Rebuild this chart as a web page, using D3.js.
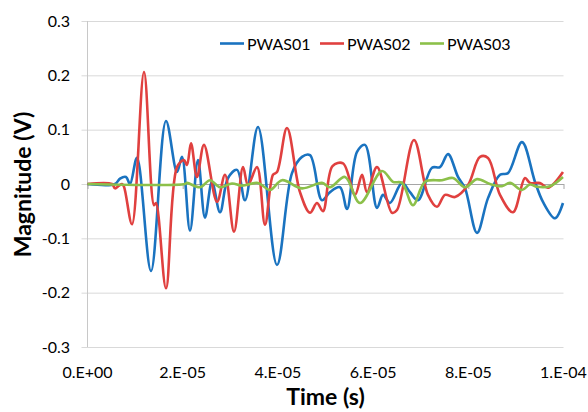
<!DOCTYPE html>
<html><head><meta charset="utf-8">
<script src="https://cdn.jsdelivr.net/npm/d3@7"></script>
<style>body{margin:0;background:#fff}svg{display:block}</style>
</head><body><svg id="c" width="588" height="412"></svg>
<script>
// time in microseconds, magnitude in volts
const seriesNames = ["PWAS01", "PWAS02", "PWAS03"];
const colors = ["#1a73c0", "#e0403f", "#8cc04a"];
const xTickValues = [0, 2e-5, 4e-5, 6e-5, 8e-5, 1e-4];
const xTickLabels = ["0.E+00", "2.E-05", "4.E-05", "6.E-05", "8.E-05", "1.E-04"];
const yTickValues = [-0.3, -0.2, -0.1, 0, 0.1, 0.2, 0.3];
const yTickLabels = ["-0.3", "-0.2", "-0.1", "0", "0.1", "0.2", "0.3"];

const pwas01T = [0,5.78,6.83,8.09,8.93,10.40,13.34,16.49,18.80,19.85,21.53,23.21,24.68,26.16,27.84,29.52,31.41,33.09,35.82,39.81,42.96,45.06,46.74,49.26,50.95,53.05,54.52,56.62,58.30,60.82,62.08,63.55,66.07,67.75,69.43,72.37,74.05,75.74,77.84,79.31,81.83,84.14,86.66,88.34,91.28,94.01,95.69,98.21,99.89];
const pwas01V = [0,0,0.010,0.013,0.0,0.048,-0.16,0.116,0.022,0.05,-0.086,0.044,-0.062,0.004,-0.052,0.011,0.026,-0.03,0.105,-0.149,0.02,0.05,0.053,-0.03,-0.015,-0.006,-0.046,0.059,0.072,-0.044,-0.02,-0.035,0.002,-0.015,-0.03,0.03,0.031,0.055,0.013,-0.008,-0.09,-0.026,0.017,0.02,0.077,0.004,-0.033,-0.063,-0.035];

const pwas02T = [0,5.15,5.78,6.62,7.25,7.67,9.35,11.87,13.97,14.39,16.49,18.80,20.27,20.90,21.74,23.0,24.47,27.21,28.89,30.78,32.67,33.72,35.61,37.29,38.97,39.81,41.91,44.64,46.74,48.21,49.47,51.47,53.68,56.2,57.67,58.72,60.82,63.97,65.02,68.59,71.53,73.42,75.11,77.21,79.94,82.46,84.14,86.66,89.39,91.91,92.96,95.06,96.74,99.89];
const pwas02V = [0,0,-0.008,-0.003,0,-0.005,-0.074,0.206,-0.039,-0.035,-0.192,0.031,0.044,0.035,0.075,0.013,0.072,-0.033,0.017,-0.088,0.031,-0.002,0.031,-0.075,0.017,0.022,0.103,-0.015,-0.053,-0.035,-0.05,0.033,0.038,-0.02,0.017,-0.015,0.031,-0.053,-0.048,0.081,-0.02,-0.042,-0.02,-0.024,-0.002,0.05,0.048,-0.02,-0.052,0.011,0.002,0.002,-0.007,0.022];

const pwas03T = [0,20.48,20.9,23.63,25.74,27.84,30.36,32.46,35.82,38.34,40.86,45.06,49.26,50.95,54.10,57.25,61.87,64.18,66.07,68.38,70.90,74.47,76.79,79.31,81.83,84.56,87.08,88.76,91.28,92.96,94.43,97.16,99.89];
const pwas03V = [0,0,0.002,-0.006,0.007,-0.006,0.001,-0.003,0.002,-0.011,0.007,-0.008,0.002,-0.006,0.013,-0.035,0.024,0.004,0.002,-0.039,0.004,0.007,0.011,-0.006,0.009,0.0,-0.004,0.002,-0.011,-0.001,-0.005,-0.004,0.013];

const allT = [pwas01T, pwas02T, pwas03T];
const allV = [pwas01V, pwas02V, pwas03V];

const svg = d3.select("#c");
const L = 87.5, R = 563.5, T = 21, B = 347;
const x = d3.scaleLinear().domain([0, 1e-4]).range([L, R]);
const y = d3.scaleLinear().domain([-0.3, 0.3]).range([B, T]);
const font = "Lato, 'Open Sans', sans-serif";

// gridlines
const yAxis = d3.axisLeft(y).tickValues(yTickValues).tickSize(-(R - L)).tickSizeOuter(0).tickFormat(() => "");
const yg = svg.append("g").attr("transform", `translate(${L},0)`).call(yAxis);
yg.selectAll(".tick line").attr("stroke", "#d9d9d9").attr("x1", -6).attr("stroke-width", 1);
yg.select(".domain").remove();
// left axis line
svg.append("line").attr("x1", L).attr("x2", L).attr("y1", T).attr("y2", B).attr("stroke", "#c8c8c8");

// y tick labels
svg.append("g").selectAll("text").data(yTickValues).join("text")
  .attr("x", 70).attr("y", d => y(d)).attr("dy", "0.35em")
  .attr("text-anchor", "end").attr("font-family", font).attr("font-size", 16).attr("fill", "#000")
  .text((d, i) => yTickLabels[i]);

// zero axis with tick marks
const xAxis = d3.axisBottom(x).tickValues(xTickValues).tickSize(5).tickSizeOuter(0).tickFormat(() => "");
const xg = svg.append("g").attr("transform", `translate(0,${y(0)})`).call(xAxis);
xg.select(".domain").attr("stroke", "#a6a6a6");
xg.selectAll(".tick line").attr("stroke", "#a6a6a6");

// x tick labels at bottom
svg.append("g").selectAll("text").data(xTickValues).join("text")
  .attr("x", d => x(d)).attr("y", 378)
  .attr("text-anchor", "middle").attr("font-family", font).attr("font-size", 16).attr("fill", "#000")
  .text((d, i) => xTickLabels[i]);

// lines
const line = d3.line().x(d => x(d[0] * 1e-6)).y(d => y(d[1])).curve(d3.curveCatmullRom.alpha(0.5));
allT.forEach((ts, k) => {
  const pts = ts.map((t, i) => [t, allV[k][i]]);
  svg.append("path").datum(pts).attr("d", line).attr("fill", "none")
    .attr("stroke", colors[k]).attr("stroke-width", 2.6).attr("stroke-linejoin", "round");
});

// legend
const legX = [220, 320, 420];
seriesNames.forEach((n, k) => {
  svg.append("line").attr("x1", legX[k]).attr("x2", legX[k] + 24).attr("y1", 43.5).attr("y2", 43.5)
    .attr("stroke", colors[k]).attr("stroke-width", 2.6);
  svg.append("text").attr("x", legX[k] + 27).attr("y", 49.5).attr("font-family", font)
    .attr("font-size", 16).attr("fill", "#000").text(n);
});

// axis titles
svg.append("text").attr("x", (L + R) / 2).attr("y", 405).attr("text-anchor", "middle")
  .attr("font-family", font).attr("font-weight", "bold").attr("font-size", 23).attr("fill", "#000").text("Time (s)");
svg.append("text").attr("transform", `translate(31,184.5) rotate(-90)`).attr("text-anchor", "middle")
  .attr("font-family", font).attr("font-weight", "bold").attr("font-size", 23).attr("fill", "#000").text("Magnitude (V)");
</script></body></html>
